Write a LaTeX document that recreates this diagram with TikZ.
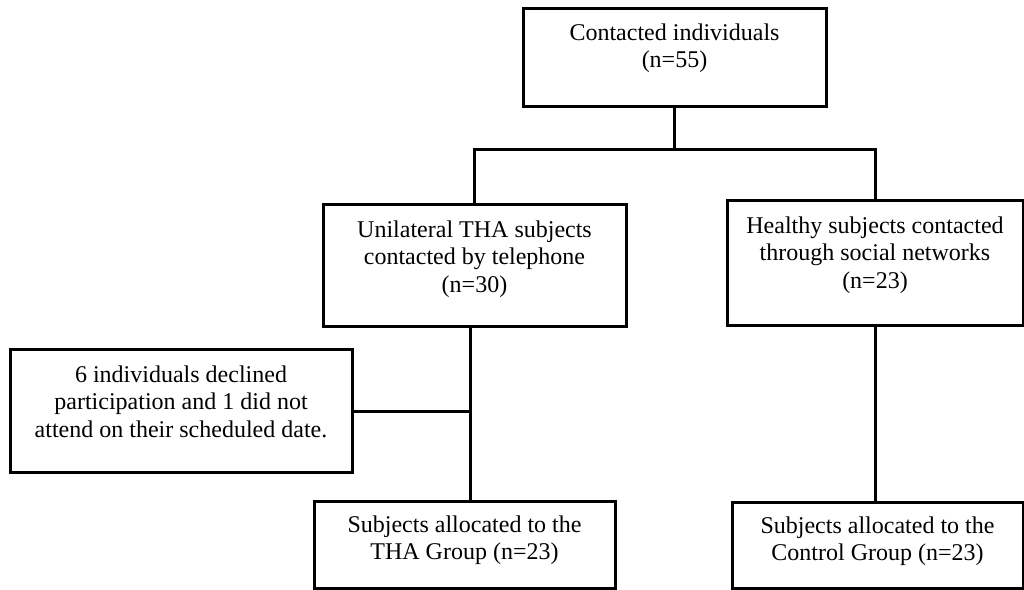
\documentclass[tikz,border=0pt]{standalone}
\usepackage{fontspec}
\setmainfont{Liberation Serif}
\begin{document}
\begin{tikzpicture}[x=1pt,y=-1pt,
  box/.style={draw=black, line width=3pt, inner sep=0pt},
  lbl/.style={font=\fontsize{24}{27.5}\selectfont, align=center, anchor=north, inner sep=0pt, text=black},
  conn/.style={draw=black, line width=3pt}]
\useasboundingbox[fill=white] (0,0) rectangle (1024,589);
% boxes
\node[box, minimum width=303pt, minimum height=98pt]  (top)      at (674.5,57)   {};
\node[box, minimum width=303pt, minimum height=122pt] (tha)      at (474.5,265)  {};
\node[box, minimum width=296pt, minimum height=125pt] (healthy)  at (875,262.5)  {};
\node[box, minimum width=342pt, minimum height=123pt] (declined) at (181,411)    {};
\node[box, minimum width=301pt, minimum height=87pt]  (thag)     at (464.5,544.5){};
\node[box, minimum width=291pt, minimum height=86pt]  (control)  at (877.5,545)  {};
% texts
\node[lbl] (ttop)  at (674.5,20.75)  {\strut Contacted individuals\\(n=55)};
\node[lbl] (ttha)  at (474.5,217.75) {\strut Unilateral THA subjects\\contacted by telephone\\(n=30)};
\node[lbl] (thea)  at (875,213.75)   {\strut Healthy subjects contacted\\through social networks\\(n=23)};
\node[lbl] (tdec)  at (181,362.75)   {\strut 6 individuals declined\\participation and 1 did not\\attend on their scheduled date.};
\node[lbl] (tthag) at (464.5,512.75) {\strut Subjects allocated to the\\THA Group (n=23)};
\node[lbl] (tcon)  at (877.5,513.75) {\strut Subjects allocated to the\\Control Group (n=23)};
% connectors
\coordinate (bar) at (0,149);
\coordinate (trunk) at (470,0);
\draw[conn] (top.south) -- (top.south |- bar);
\draw[conn] (tha.north) -- (tha.north |- bar) -- (healthy.north |- bar) -- (healthy.north);
\draw[conn] (tha.south -| trunk) -- (thag.north -| trunk);
\draw[conn] (declined.east) -- (declined.east -| trunk);
\draw[conn] (healthy.south) -- (healthy.south |- control.north);
\end{tikzpicture}
\end{document}
